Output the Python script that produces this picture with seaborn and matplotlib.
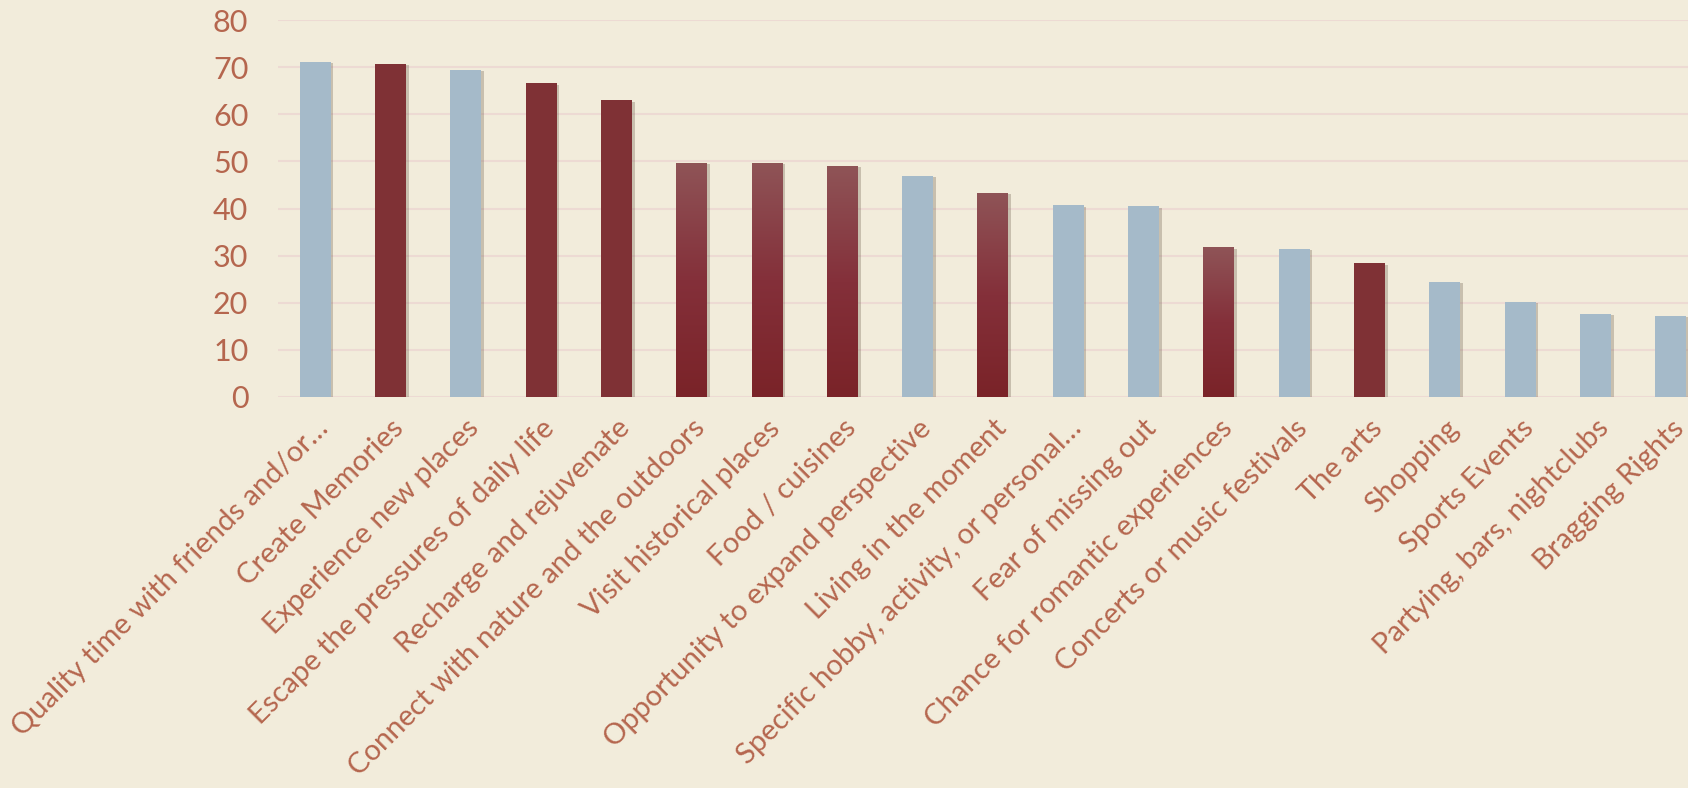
import numpy as np
import pandas as pd
import seaborn as sns
import matplotlib.pyplot as plt
from matplotlib import patheffects as pe
from matplotlib.colors import LinearSegmentedColormap

# Data
reasons = [
    "Quality time with friends and/or\u2026",
    "Create Memories",
    "Experience new places",
    "Escape the pressures of daily life",
    "Recharge and rejuvenate",
    "Connect with nature and the outdoors",
    "Visit historical places",
    "Food / cuisines",
    "Opportunity to expand perspective",
    "Living in the moment",
    "Specific hobby, activity, or personal\u2026",
    "Fear of missing out",
    "Chance for romantic experiences",
    "Concerts or music festivals",
    "The arts",
    "Shopping",
    "Sports Events",
    "Partying, bars, nightclubs",
    "Bragging Rights",
]
values = [71.1, 70.7, 69.4, 66.6, 63.0, 49.7, 49.7, 49.0, 46.9, 43.3,
          40.7, 40.5, 31.8, 31.4, 28.4, 24.4, 20.2, 17.6, 17.2]
styles = ["blue", "red", "blue", "red", "red", "grad", "grad", "grad", "blue", "grad",
          "blue", "blue", "grad", "blue", "red", "blue", "blue", "blue", "blue"]

BG = "#F2ECDB"
TXT = "#B5664E"
palette = {"blue": "#A5BAC9", "red": "#7F3135", "grad": "#84323A"}

df = pd.DataFrame({"reason": reasons, "value": values, "style": styles})

sns.set_theme(style="white")
plt.rcParams["font.family"] = ["Lato", "DejaVu Sans"]

fig = plt.figure(figsize=(16.88, 7.88), dpi=100, facecolor=BG)
ax = fig.add_axes([0.1644, 0.4962, 0.8356, 0.4784])
ax.set_facecolor(BG)

sns.barplot(data=df, x="reason", y="value", hue="style", palette=palette,
            width=0.41, dodge=False, legend=False, saturation=1, linewidth=0,
            ax=ax, zorder=3)

# soft shadow like the original Excel bars
shadow = [pe.SimplePatchShadow(offset=(2, -1), shadow_rgbFace="#6a5a48", alpha=0.3), pe.Normal()]
grad_cmap = LinearSegmentedColormap.from_list("g", ["#7A2328", "#84303A", "#8F5457"])
for patch in ax.patches:
    patch.set_path_effects(shadow)
    h = patch.get_height()
    x0 = patch.get_x()
    w = patch.get_width()
    idx = int(round(x0 + w / 2))
    if styles[idx] == "grad":
        grad = np.linspace(0, 1, 256).reshape(-1, 1)
        im = ax.imshow(grad, cmap=grad_cmap, origin="lower", aspect="auto",
                       extent=[x0, x0 + w, 0, h], zorder=4)
        im.set_clip_path(patch)

ax.set_xlim(-0.5, 18.23)
ax.set_ylim(0, 80)
ax.set_yticks(range(0, 81, 10))
ax.grid(axis="y", color="#EDDAD3", linewidth=1.5, zorder=0)
ax.set_axisbelow(True)
sns.despine(ax=ax, left=True, bottom=True)
ax.set_xlabel("")
ax.set_ylabel("")
ax.tick_params(axis="y", labelsize=22, colors=TXT, length=0, pad=21)
ax.tick_params(axis="x", labelsize=21, colors=TXT, length=0, pad=13)
plt.setp(ax.get_xticklabels(), rotation=45, ha="right", rotation_mode="anchor")

fig.savefig("out.png", dpi=100, facecolor=BG)
